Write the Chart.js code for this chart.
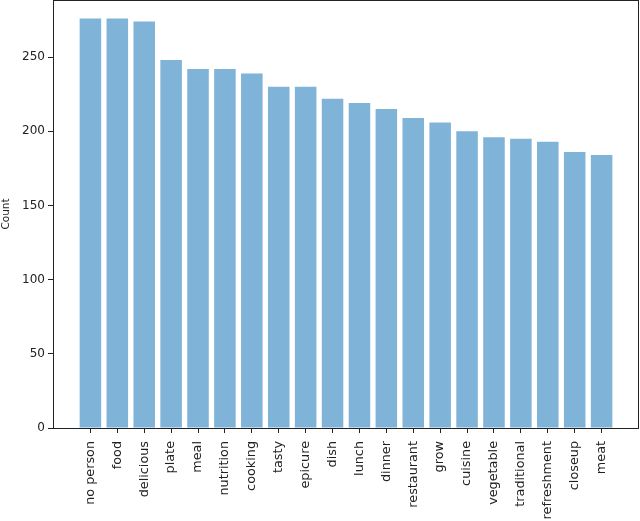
<!DOCTYPE html>
<html>
<head>
<meta charset="utf-8">
<script src="https://cdn.jsdelivr.net/npm/chart.js@4"></script>
<style>
  html, body { margin: 0; padding: 0; background: #fff; }
  #wrap { width: 640px; height: 521px; }
</style>
</head>
<body>
<div id="wrap"><canvas id="myChart"></canvas></div>
<script>
'use strict';

const categories = [
    'no person', 'food', 'delicious', 'plate', 'meal', 'nutrition', 'cooking',
    'tasty', 'epicure', 'dish', 'lunch', 'dinner', 'restaurant', 'grow',
    'cuisine', 'vegetable', 'traditional', 'refreshment', 'closeup', 'meat'
];
const counts = [
    276, 276, 274, 248, 242, 242, 239,
    230, 230, 222, 219, 215, 209, 206,
    200, 196, 195, 193, 186, 184
];
const yTicks = [0, 50, 100, 150, 200, 250];

const axisColor = '#222';
const fontFamily = "'DejaVu Sans', sans-serif";

// matplotlib-like box around the axes
const frame = {
    id: 'frame',
    afterDraw(chart) {
        const a = chart.chartArea;
        const ctx = chart.ctx;
        ctx.save();
        ctx.strokeStyle = axisColor;
        ctx.lineWidth = 1;
        ctx.strokeRect(Math.round(a.left) + 0.5, Math.round(a.top) + 0.5,
            Math.round(a.right - a.left) - 1, Math.round(a.bottom - a.top));
        ctx.restore();
    }
};

const data = {
    datasets: [{
        label: 'Count',
        data: counts.map((v, i) => ({ x: i, y: v })),
        backgroundColor: '#7fb3d8',
        borderWidth: 0,
        barPercentage: 0.8,
        categoryPercentage: 1
    }]
};

const config = {
    type: 'bar',
    data: data,
    plugins: [frame],
    options: {
        animation: false,
        responsive: true,
        maintainAspectRatio: false,
        layout: {
            padding: { top: 0, right: 1, left: 0, bottom: 0 }
        },
        plugins: {
            legend: { display: false },
            tooltip: { enabled: false }
        },
        scales: {
            x: {
                type: 'linear',
                min: -1.39,
                max: 20.39,
                offset: false,
                afterBuildTicks: (axis) => {
                    axis.ticks = categories.map((c, i) => ({ value: i }));
                },
                afterFit: (axis) => {
                    axis.height = 93;
                    axis.paddingLeft = 0;
                    axis.paddingRight = 0;
                },
                grid: {
                    offset: false,
                    drawOnChartArea: false,
                    tickLength: 5,
                    color: axisColor
                },
                border: { display: false },
                ticks: {
                    minRotation: 90,
                    maxRotation: 90,
                    autoSkip: false,
                    padding: 8,
                    color: axisColor,
                    font: { family: fontFamily, size: 12.8 },
                    callback: (v) => categories[v]
                }
            },
            y: {
                min: 0,
                max: 288.5,
                afterBuildTicks: (axis) => {
                    axis.ticks = yTicks.map((v) => ({ value: v }));
                },
                afterFit: (axis) => {
                    axis.width = 53;
                    axis.paddingTop = 0;
                    axis.paddingBottom = 0;
                },
                grid: {
                    drawOnChartArea: false,
                    tickLength: 5,
                    color: axisColor
                },
                border: { display: false },
                title: {
                    display: true,
                    text: 'Count',
                    color: axisColor,
                    padding: 0,
                    font: { family: fontFamily, size: 10.5 }
                },
                ticks: {
                    padding: 3,
                    color: axisColor,
                    font: { family: fontFamily, size: 12 }
                }
            }
        }
    }
};

let myChart = new Chart(document.getElementById('myChart'), config);
</script>
</body>
</html>
